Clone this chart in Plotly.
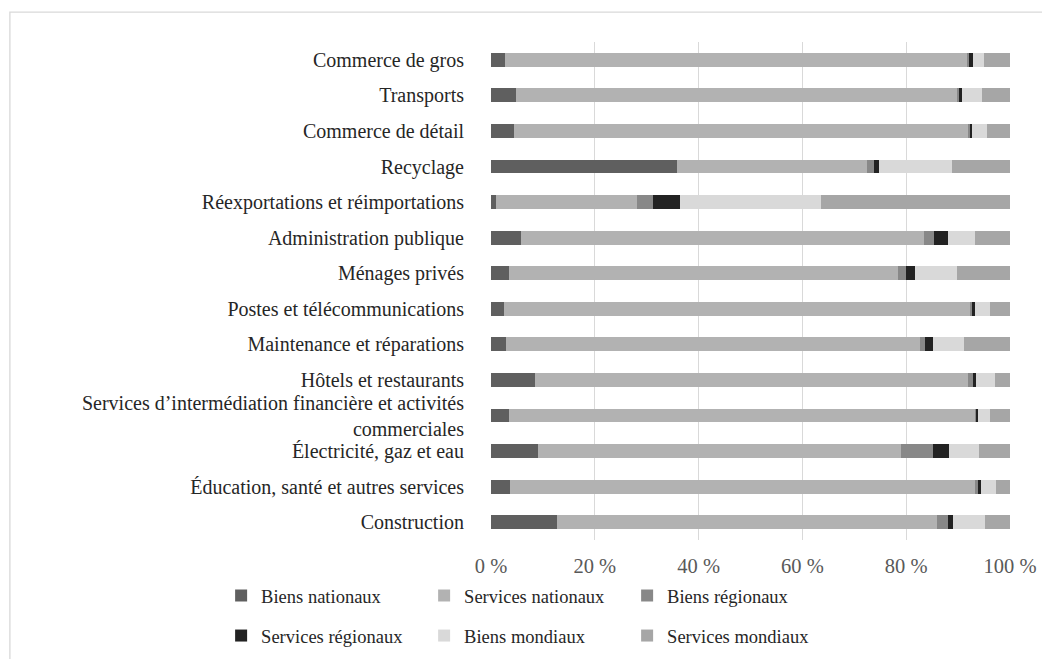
import plotly.graph_objects as go

categories = [
    "Commerce de gros",
    "Transports",
    "Commerce de détail",
    "Recyclage",
    "Réexportations et réimportations",
    "Administration publique",
    "Ménages privés",
    "Postes et télécommunications",
    "Maintenance et réparations",
    "Hôtels et restaurants",
    "Services d’intermédiation financière et activités<br>commerciales",
    "Électricité, gaz et eau",
    "Éducation, santé et autres services",
    "Construction",
]

biens_nationaux = [2.7, 4.8, 4.4, 35.8, 0.9, 5.7, 3.4, 2.5, 2.9, 8.5, 3.5, 9.0, 3.7, 12.8]
services_nationaux = [89.1, 84.9, 87.6, 36.6, 27.2, 77.7, 75.0, 89.8, 79.8, 83.5, 89.9, 70.0, 89.5, 73.1]
biens_regionaux = [0.3, 0.4, 0.2, 1.3, 3.1, 1.9, 1.5, 0.4, 0.9, 0.9, 0.1, 6.1, 0.7, 2.1]
services_regionaux = [0.7, 0.7, 0.5, 1.0, 5.2, 2.8, 1.8, 0.5, 1.5, 0.5, 0.3, 3.2, 0.5, 1.0]
biens_mondiaux = [2.1, 3.9, 2.9, 14.1, 27.2, 5.1, 8.0, 3.0, 6.1, 3.7, 2.4, 5.8, 2.9, 6.1]
services_mondiaux = [5.1, 5.3, 4.4, 11.2, 36.4, 6.8, 10.3, 3.8, 8.8, 2.9, 3.8, 5.9, 2.7, 4.9]

series_names = ["Biens nationaux", "Services nationaux", "Biens régionaux",
                "Services régionaux", "Biens mondiaux", "Services mondiaux"]
series_values = [biens_nationaux, services_nationaux, biens_regionaux,
                 services_regionaux, biens_mondiaux, services_mondiaux]
series_colors = ["#5f5f5f", "#b2b2b2", "#888888", "#222222", "#d9d9d9", "#a6a6a6"]
legend_ids = ["legend", "legend", "legend", "legend2", "legend2", "legend2"]

FONT = "Liberation Serif, Times New Roman, serif"

fig = go.Figure()
for name, vals, col, lg in zip(series_names, series_values, series_colors, legend_ids):
    fig.add_trace(go.Bar(
        y=categories, x=vals, name=name, orientation="h",
        marker=dict(color=col, line=dict(width=0)),
        legend=lg,
    ))

legend_common = dict(
    orientation="h", xanchor="left", yanchor="middle",
    xref="paper", yref="paper",
    font=dict(family=FONT, size=18.5, color="#262626"),
    entrywidth=158, itemwidth=30, bgcolor="rgba(0,0,0,0)",
    traceorder="normal",
)

fig.update_layout(
    width=1042, height=659,
    margin=dict(l=491, r=32, t=42, b=119, autoexpand=False),
    paper_bgcolor="white", plot_bgcolor="white",
    barmode="stack", bargap=0.61,
    font=dict(family=FONT, size=20, color="#262626"),
    xaxis=dict(
        range=[0, 100], dtick=20, tick0=0, ticksuffix=" %",
        showgrid=True, gridcolor="#d9d9d9", gridwidth=1.3,
        zeroline=False, showline=False, automargin=False,
        tickfont=dict(family=FONT, size=20.5, color="#595959"),
        ticklabelstandoff=11,
    ),
    yaxis=dict(
        categoryorder="array", categoryarray=categories,
        autorange="reversed", showgrid=False, zeroline=False, automargin=False,
        tickfont=dict(family=FONT, size=20, color="#262626"),
        ticklabelstandoff=26,
    ),
    legend=dict(x=-0.52, y=-0.1124, **legend_common),
    legend2=dict(x=-0.52, y=-0.1928, **legend_common),
    shapes=[dict(
        type="rect", xref="paper", yref="paper",
        x0=-0.927, x1=1.08, y0=-0.3, y1=1.06,
        line=dict(color="#d9d9d9", width=1.3), fillcolor="rgba(0,0,0,0)",
        layer="below",
    )],
)

fig.write_html("out.html")
